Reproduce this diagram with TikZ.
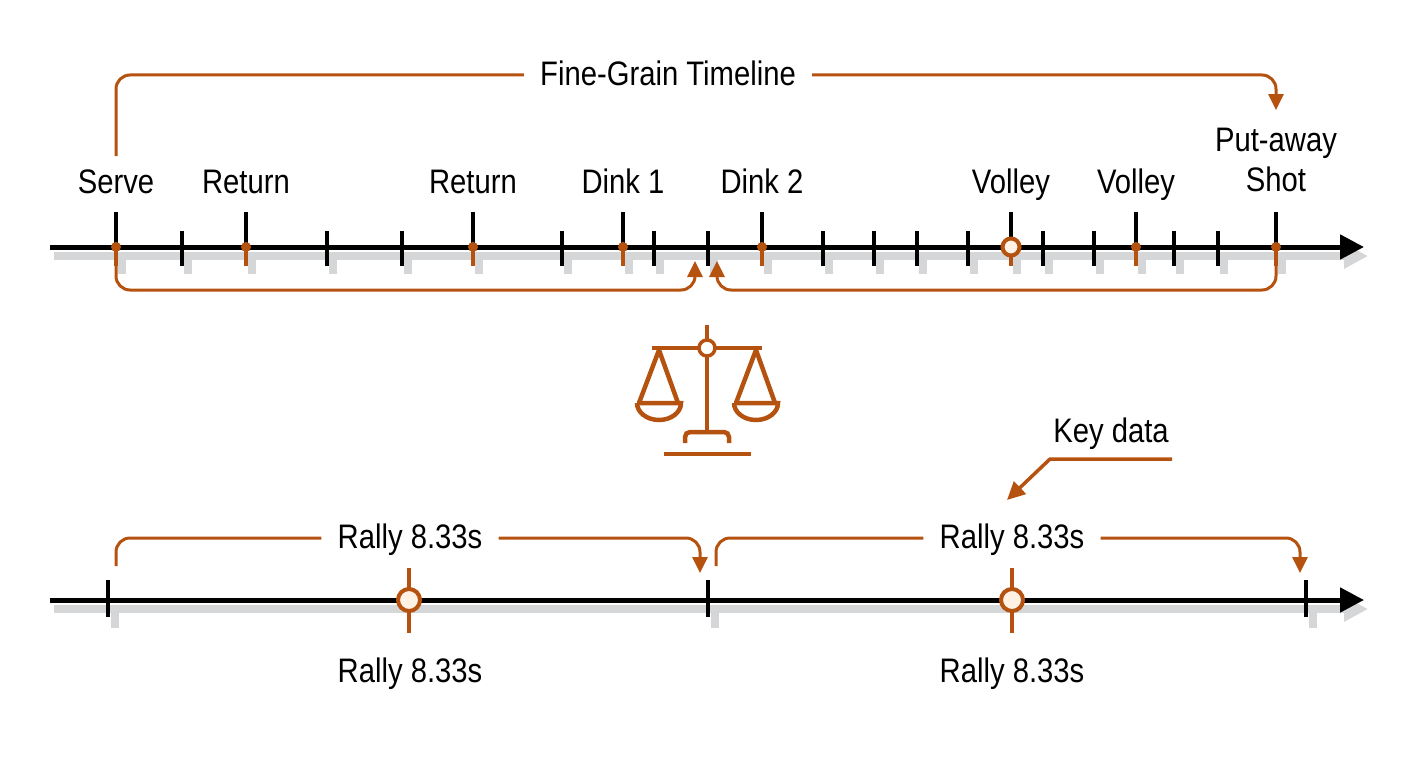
\documentclass[tikz,border=0pt]{standalone}
\usepackage{fontspec}
\setmainfont{Liberation Sans}[FakeStretch=0.86]
\usetikzlibrary{arrows.meta}
\definecolor{org}{HTML}{B5520F}
\definecolor{shd}{HTML}{D5D6D8}
\begin{document}
\begin{tikzpicture}[x=1pt,y=-1pt,
 lbl/.style={font=\fontsize{34}{40}\selectfont,inner sep=2pt,align=center},
 one/.style={lbl,text height=0.72em,text depth=0.22em,yshift=-8pt},
 gap/.style={one,inner xsep=16pt},
 ax/.style={line width=5pt,-{Triangle[length=24pt,width=24pt]}},
 brk/.style={org,line width=3pt,rounded corners=14pt},
 arr/.style={brk,-{Triangle[length=16pt,width=15pt]}},
 tk/.style={line width=4pt},
 otk/.style={org,line width=4pt}]
\useasboundingbox (0,0) rectangle (1408,768);
% ---- top axis
\foreach \x in {116,246,473,623,762,1011,1136,1276,182,327,402,562,654,708,823,874,917,968,1043,1094,1174,1218}{
  \fill[shd] (\x+2,252) rectangle (\x+10,274);}
\draw[shd,line width=8pt,-{Triangle[length=24pt,width=24pt]}] (54,256) -- (1368,256);
\draw[ax] (50,247) coordinate (a0) -- (1364,247) coordinate (a1);
\foreach \x in {182,327,402,562,654,708,823,874,917,968,1043,1094,1174,1218}
  \draw[tk] (\x,231) -- (\x,266);
\foreach \x/\n in {116/e1,246/e2,473/e3,623/e4,762/e5,1011/e6,1136/e7,1276/e8}{
  \draw[tk] (\x,212) -- (\x,247);
  \draw[otk] (\x,247) -- (\x,266);
  \fill[org] (\x,247) circle (5pt);
  \coordinate (\n) at (\x,247);}
\fill[white] (1011,247) circle (10pt);
\draw[org,line width=4pt,fill=orange!10] (1011,247) circle (8.5pt);
\node[one] (l1) at (116,183) {Serve};
\node[one] (l2) at (246,183) {Return};
\node[one] (l3) at (473,183) {Return};
\node[one] (l4) at (623,183) {Dink 1};
\node[one] (l5) at (762,183) {Dink 2};
\node[one] (l6) at (1011,183) {Volley};
\node[one] (l7) at (1136,183) {Volley};
\node[lbl] (l8) at (1276,160) {Put-away\\Shot};
\node[gap] (ft) at (668,75) {Fine-Grain Timeline};
\coordinate (s0) at (116,156);
\coordinate (t1) at (116,75);
\coordinate (t2) at (1276,75);
\draw[brk] (s0) -- (t1) -- (ft.west |- t1);
\draw[arr] (ft.east |- t2) -- (t2) -- (1276,110);
\coordinate (m1) at (695,261);
\coordinate (m2) at (717,261);
\draw[arr] (e1) ++(0,19) -- (116,290) -- (695,290) -- (m1);
\draw[arr] (e8) ++(0,19) -- (1276,290) -- (717,290) -- (m2);
% ---- scale icon
\begin{scope}[org,line width=4.5pt]
\draw (707,325) -- (707,339);
\draw (652,348) -- (699,348); \draw (715,348) -- (762,348);
\draw (707,356) -- (707,432);
\draw[line width=3.5pt] (707,348) circle (8pt);
\draw[rounded corners=5pt] (685,443) -- (685,432) -- (729,432) -- (729,443);
\draw (664,454) -- (751,454);
\draw[line join=round] (639,403) -- (659,350) -- (678,403);
\draw (637,403) -- (681,403) arc (0:180:22 and 17);
\draw[line join=round] (736,403) -- (756,350) -- (775,403);
\draw (734,403) -- (778,403) arc (0:180:22 and 17);
\end{scope}
% ---- bottom axis
\foreach \x in {108,708,1306} \fill[shd] (\x+3,605) rectangle (\x+11,628);
\draw[shd,line width=8pt,-{Triangle[length=24pt,width=24pt]}] (54,609) -- (1368,609);
\draw[ax] (50,600) -- (1364,600);
\foreach \x/\n in {108/b1,708/b2,1306/b3}{
  \draw[tk] (\x,580) -- (\x,617); \coordinate (\n) at (\x,580);}
\foreach \x/\n in {409/c1,1012/c2}{
  \draw[otk] (\x,568) -- (\x,633);
  \draw[org,line width=4pt,fill=orange!10] (\x,600) circle (11pt);
  \coordinate (\n) at (\x,600);}
\node[gap] (r1) at (410,538) {Rally 8.33s};
\node[gap] (r2) at (1012,538) {Rally 8.33s};
\node[one] (r3) at (410,672) {Rally 8.33s};
\node[one] (r4) at (1012,672) {Rally 8.33s};
\coordinate (u1) at (116,538); \coordinate (u2) at (700,538);
\coordinate (u3) at (716,538); \coordinate (u4) at (1300,538);
\draw[brk] (116,566) -- (u1) -- (r1.west |- u1);
\draw[arr] (r1.east |- u2) -- (u2) -- (700,573);
\draw[brk] (716,566) -- (u3) -- (r2.west |- u3);
\draw[arr] (r2.east |- u4) -- (u4) -- (1300,573);
\node[one] (kd) at (1111,432) {Key data};
\coordinate (k0) at (1172,459);
\coordinate (k1) at (1050,459);
\coordinate (k2) at (1007,500);
\draw[org,line width=3.5pt,-{Triangle[length=18pt,width=17pt]}] (k0) -- (k1) -- (k2);
\end{tikzpicture}
\end{document}
